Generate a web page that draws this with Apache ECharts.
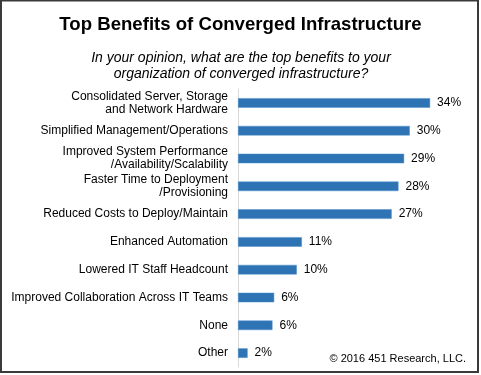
<!DOCTYPE html>
<html>
<head>
<meta charset="utf-8">
<script src="https://cdn.jsdelivr.net/npm/echarts@6/dist/echarts.min.js"></script>
<style>
html,body{margin:0;padding:0;background:#fff;}
#c{width:481px;height:375px;}
</style>
</head>
<body>
<div id="c"></div>
<script>
var categories = [
  "Consolidated Server, Storage\nand Network Hardware",
  "Simplified Management/Operations",
  "Improved System Performance\n/Availability/Scalability",
  "Faster Time to Deployment\n/Provisioning",
  "Reduced Costs to Deploy/Maintain",
  "Enhanced Automation",
  "Lowered IT Staff Headcount",
  "Improved Collaboration Across IT Teams",
  "None",
  "Other"
];
var values = [34.0, 30.4, 29.4, 28.4, 27.2, 11.3, 10.4, 6.4, 6.1, 1.7];
var valueLabels = ["34%", "30%", "29%", "28%", "27%", "11%", "10%", "6%", "6%", "2%"];

var chart = echarts.init(document.getElementById('c'), null, {renderer: 'canvas'});
var font = 'Arial, "Liberation Sans", sans-serif';
chart.setOption({
  animation: false,
  title: [{
    text: 'Top Benefits of Converged Infrastructure',
    left: 'center', top: 10,
    textStyle: {fontFamily: font, fontSize: 18.6, fontWeight: 'bold', color: '#000'}
  }],
  grid: {left: 238, top: 89, width: 231.65, height: 278, containLabel: false},
  xAxis: {
    type: 'value', min: 0, max: 41,
    show: false
  },
  yAxis: {
    type: 'category', inverse: true, data: categories,
    axisLine: {show: true, lineStyle: {color: '#d9d9d9', width: 1}},
    axisTick: {show: false},
    axisLabel: {fontFamily: font, fontSize: 12, color: '#000', margin: 10, lineHeight: 13, align: 'right'}
  },
  series: [{
    type: 'bar',
    data: values,
    barWidth: 9.5,
    itemStyle: {color: '#2e74b5', borderColor: '#4a8ccb', borderWidth: 0.5},
    label: {
      show: true, position: 'right', distance: 7,
      fontFamily: font, fontSize: 12, color: '#000',
      formatter: function (p) { return valueLabels[p.dataIndex]; }
    }
  }],
  graphic: [{
    type: 'text', x: 241, y: 66,
    style: {
      text: 'In your opinion, what are the top benefits to your\norganization of converged infrastructure?',
      fontFamily: font, fontSize: 14, fontStyle: 'italic', fill: '#000',
      align: 'center', verticalAlign: 'middle', lineHeight: 16
    }
  }, {
    type: 'text', x: 466, y: 359,
    style: {text: '\u00a9 2016 451 Research, LLC.', fontFamily: font, fontSize: 11, fill: '#000', align: 'right', verticalAlign: 'middle'}
  }, {
    type: 'rect', shape: {x: 1, y: 0.5, width: 477, height: 371.5},
    style: {fill: 'none', stroke: '#3a3a3a', lineWidth: 2}
  }]
});
</script>
</body>
</html>
